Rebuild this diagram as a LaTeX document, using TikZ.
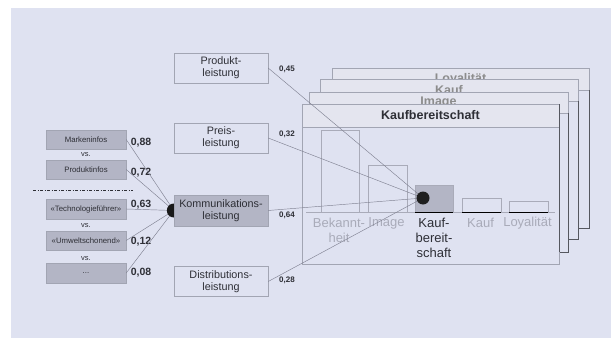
\documentclass[tikz,border=0pt]{standalone}
\usepackage{fontspec}
\setmainfont{Liberation Sans}
\usetikzlibrary{calc}
\definecolor{bg}{HTML}{DFE2F1}
\definecolor{barfill}{HTML}{E4E5EF}
\definecolor{boxgrey}{HTML}{B3B5C5}
\definecolor{edge}{HTML}{A2A5B3}
\definecolor{faint}{HTML}{A9ABB9}
\definecolor{conn}{HTML}{808292}
\definecolor{shadowc}{HTML}{55575F}
\definecolor{txt}{HTML}{2E2F36}
\begin{document}
\begin{tikzpicture}[x=1pt,y=-1pt,
  smallbox/.style={draw=edge, fill=boxgrey, minimum width=80pt, minimum height=19.5pt, inner sep=0pt, font=\fontsize{7.8}{9}\selectfont, text=txt},
  mainbox/.style={draw=edge, fill=bg, minimum width=94pt, minimum height=30pt, inner sep=0pt, align=center, font=\fontsize{10.8}{11.8}\selectfont, text=txt},
  vslabel/.style={font=\fontsize{7.5}{8}\selectfont, text=txt, inner sep=0pt},
  bignum/.style={font=\bfseries\fontsize{10.5}{11}\selectfont, text=txt, inner sep=0pt},
  smallnum/.style={font=\bfseries\fontsize{8}{9}\selectfont, text=txt, inner sep=0pt},
  frame/.style={draw=edge, fill=bg, line width=0.6pt},
  titlebar/.style={draw=edge, fill=barfill, line width=0.6pt},
  backtitle/.style={font=\bfseries\fontsize{12.5}{13}\selectfont, text=black!45, inner sep=0pt},
  fronttitle/.style={font=\bfseries\fontsize{12.5}{13}\selectfont, text=txt, inner sep=0pt},
  shadowline/.style={draw=shadowc, line width=1pt},
  stagebar/.style={draw=faint, line width=0.5pt},
  stagelabel/.style={font=\fontsize{13}{15}\selectfont, text=faint, align=center, inner sep=0pt},
  conn/.style={draw=conn, line width=0.45pt}
]
\useasboundingbox (0,0) rectangle (611,340);
\fill[white] (0,0) rectangle (611,340);
\fill[bg] (11,8) rectangle (611,338);

% ---- stacked frames (back to front)
\filldraw[frame] (332,68) rectangle (589,228);
\filldraw[titlebar] (332,68) rectangle (589,90);
\node[backtitle] (tL) at (460.5,79) {Loyalität};
\draw[shadowline] (589,90) -- (589,228) -- (579,228);

\filldraw[frame] (320,79) rectangle (578,239);
\filldraw[titlebar] (320,79) rectangle (578,101);
\node[backtitle] (tK) at (449,90) {Kauf};
\draw[shadowline] (578,101) -- (578,239) -- (568,239);

\filldraw[frame] (309,92) rectangle (568,252);
\filldraw[titlebar] (309,92) rectangle (568,113);
\node[backtitle] (tI) at (438.5,102.5) {Image};
\draw[shadowline] (568,113) -- (568,252) -- (559,252);

\filldraw[frame] (302,104) rectangle (559,264);
\filldraw[titlebar] (302,104) rectangle (559,127);
\node[fronttitle] (tF) at (430.5,115.5) {Kaufbereitschaft};
\draw[shadowline] (559,104) -- (559,252);

% ---- stage bars
\draw[stagebar] (321,130) rectangle (359,212);
\draw[stagebar] (368,165) rectangle (407,212);
\draw[stagebar, fill=boxgrey] (415,185) rectangle (453,212);
\draw[stagebar] (462,198) rectangle (501,212);
\draw[stagebar] (509,201) rectangle (548,212);
\draw[stagebar] (306,212) -- (555,212);
\draw[black, line width=1pt] (415,212) -- (453,212);
\draw[black, line width=1pt] (462,212) -- (501,212);
\draw[black, line width=1pt] (509,212) -- (548,212);

\node[stagelabel] (lB) at (339,230.5) {Bekannt-\\heit};
\node[stagelabel] (lI) at (386.5,223) {Image};
\node[stagelabel, text=txt] (lKB) at (434,237.5) {Kauf-\\bereit-\\schaft};
\node[stagelabel] (lK) at (480.5,223) {Kauf};
\node[stagelabel] (lL) at (527.5,223) {Loyalität};

% ---- left boxes
\node[smallbox] (mark) at (86,139.5) {Markeninfos};
\node[smallbox] (prodi) at (86,169.5) {Produktinfos};
\node[smallbox] (tech) at (86,209) {«Technologieführer»};
\node[smallbox] (umw) at (86,240.5) {«Umweltschonend»};
\node[smallbox] (etc) at (86,273) {...};
\node[vslabel] (vs1) at (86,155) {vs.};
\node[vslabel] (vs2) at (86,226) {vs.};
\node[vslabel] (vs3) at (86,259) {vs.};
\coordinate (dl) at (33,190);
\coordinate (dr) at (133,190);
\draw[txt, line width=0.6pt, dash pattern=on 3pt off 1.5pt on 1pt off 1.5pt] (dl) -- (dr);

\node[bignum] (n88) at (141,143) {0,88};
\node[bignum] (n72) at (141,173) {0,72};
\node[bignum] (n63) at (141,205) {0,63};
\node[bignum] (n12) at (141,242) {0,12};
\node[bignum] (n08) at (141,273) {0,08};

% ---- middle boxes
\node[mainbox] (pl) at (221,68) {Produkt-\\leistung};
\node[mainbox] (prl) at (221,138) {Preis-\\leistung};
\node[mainbox, fill=boxgrey, minimum height=31pt] (kl) at (221,210.5) {Kommunikations-\\leistung};
\node[mainbox] (dil) at (221,281.5) {Distributions-\\leistung};

\node[smallnum] (n45) at (287,69) {0,45};
\node[smallnum] (n32) at (287,134) {0,32};
\node[smallnum] (n64) at (287,215) {0,64};
\node[smallnum] (n28) at (287,280) {0,28};

% ---- connectors
\coordinate (dot) at (423,198);
\foreach \b in {mark,prodi,tech,umw,etc}
  \draw[conn] (\b.east) -- (kl.west);
\foreach \b in {pl,prl,kl,dil}
  \draw[conn] (\b.east) -- (dot);

\begin{scope}
  \clip ($(kl.west)+(-9,-9)$) rectangle (kl.west |- 0,218);
  \fill[black!90] (kl.west) circle[radius=7pt];
\end{scope}
\fill[black!88] (dot) circle[radius=6.5pt];
\end{tikzpicture}
\end{document}
